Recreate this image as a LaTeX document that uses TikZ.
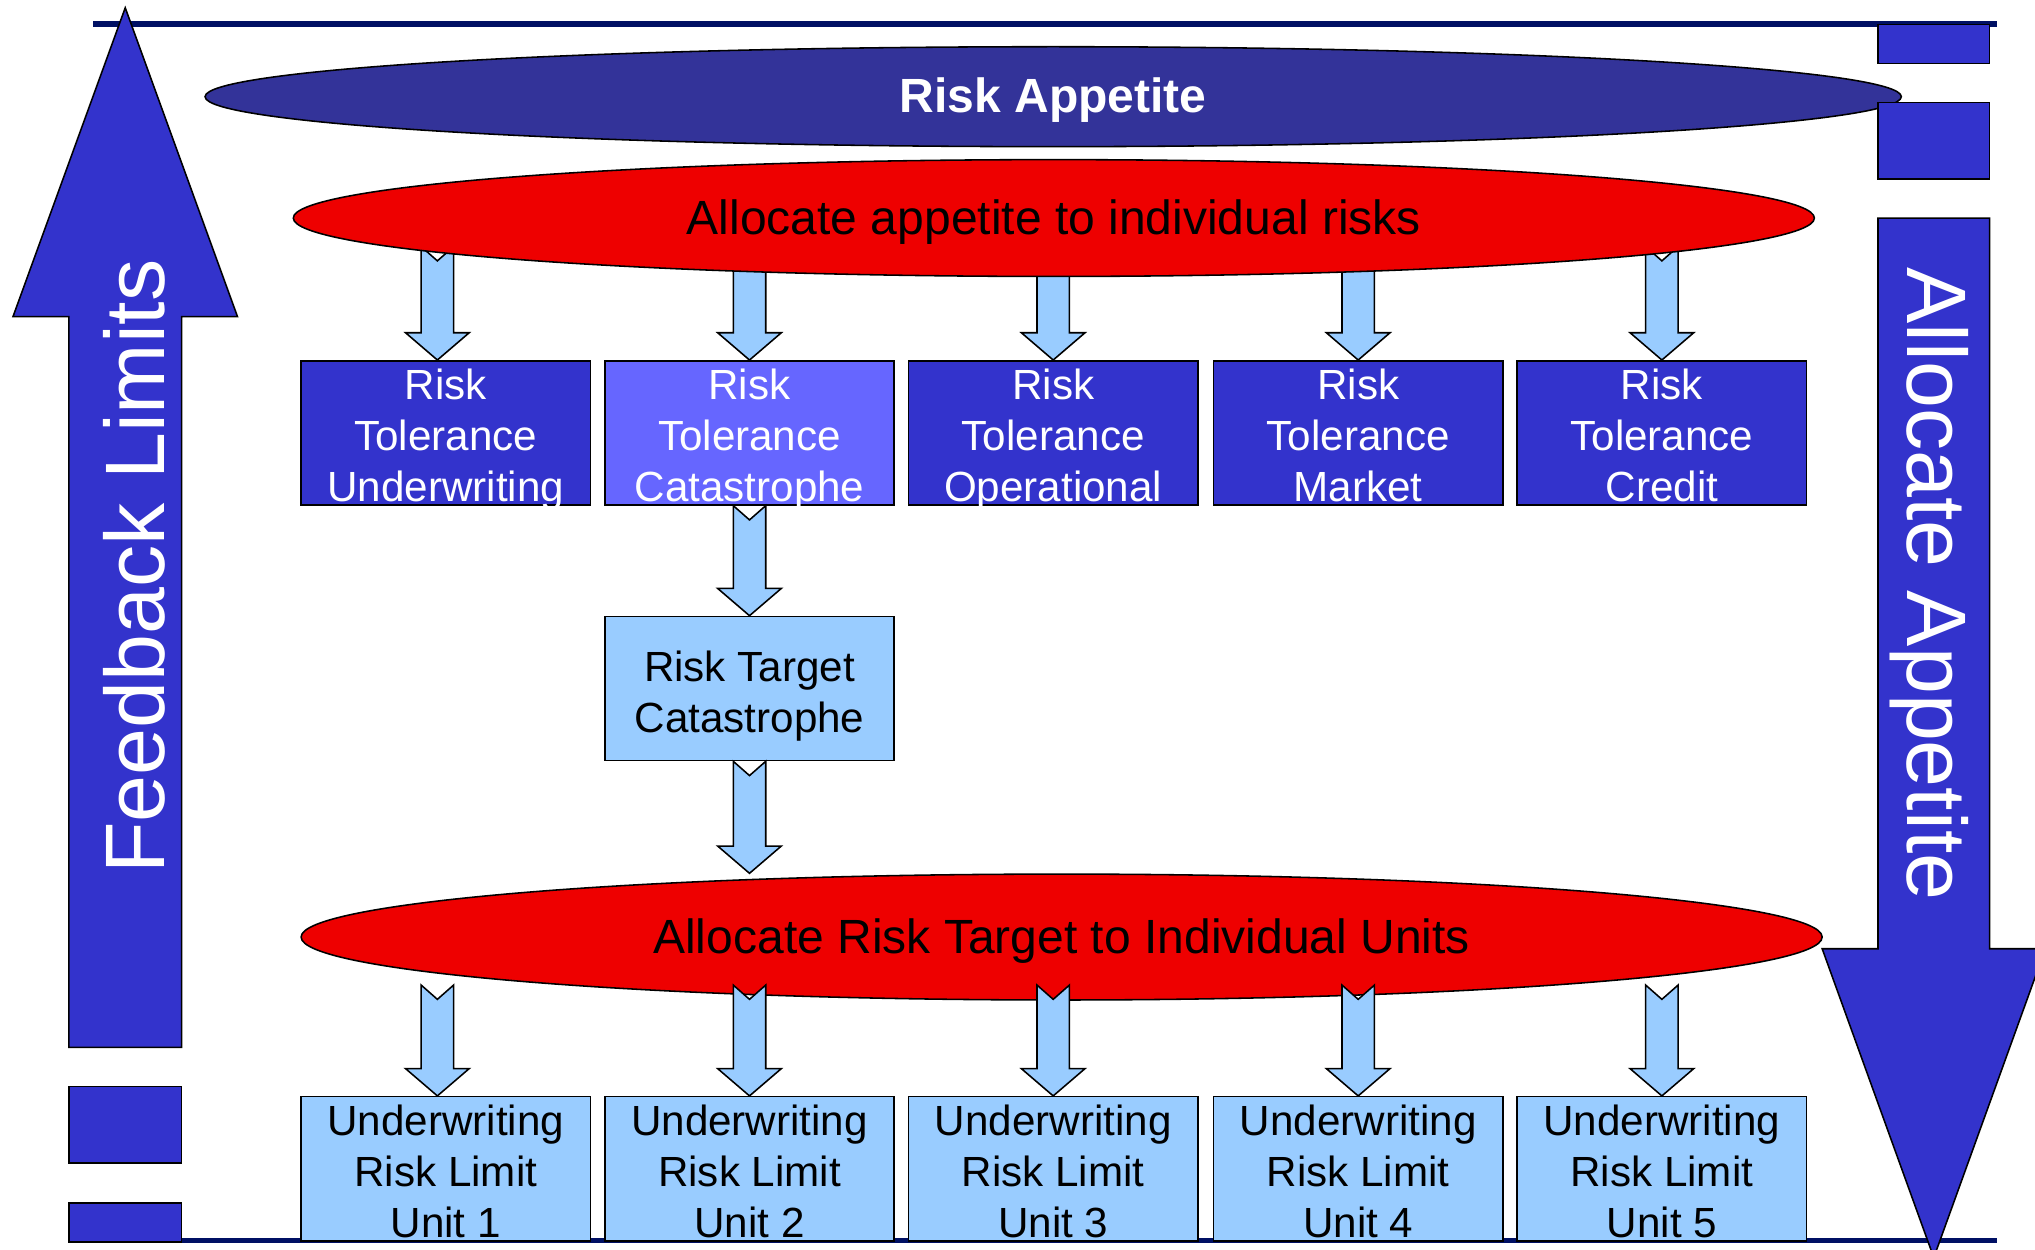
\documentclass[tikz,border=0pt]{standalone}
\usepackage{fontspec}
\setmainfont{Liberation Sans}
\usetikzlibrary{shapes.geometric,calc}

\definecolor{navy}{RGB}{0,16,100}
\definecolor{appetite}{HTML}{333399}
\definecolor{deepblue}{HTML}{3333CC}
\definecolor{catblue}{HTML}{6666FF}
\definecolor{paleblue}{HTML}{99CCFF}
\definecolor{allocred}{HTML}{EE0000}

\newcommand\boxfont{\fontsize{32.5}{39.5}\selectfont}
\newcommand\ellfont{\fontsize{37}{40}\selectfont}
\newcommand\sidefont{\fontsize{65}{70}\selectfont}

% notched block arrow from a tail point (#1, only its height is used) down to a tip (#2)
\newcommand\blockarrow[2]{%
  \draw[outline, fill=paleblue] let \p1=(#1), \p2=(#2) in
    (\x2,\y2) -- (\x2-24.5pt,\y2+21pt) -- (\x2-12.5pt,\y2+21pt)
    -- (\x2-12.5pt,\y1) -- (\x2,\y1-11pt) -- (\x2+12.5pt,\y1)
    -- (\x2+12.5pt,\y2+21pt) -- (\x2+24.5pt,\y2+21pt) -- cycle;}

\begin{document}
\begin{tikzpicture}[x=1pt,y=-1pt,
  outline/.style={draw=black,line width=1.2pt},
  tolbox/.style={outline,fill=deepblue,minimum width=223pt,minimum height=111pt,inner sep=0pt},
  limbox/.style={tolbox,fill=paleblue},
  boxtext/.style={anchor=north,inner sep=0pt,align=center,font=\boxfont},
  oval/.style={ellipse,outline,inner sep=0pt,font=\ellfont,text height=26pt,text depth=1pt},
  sidetext/.style={anchor=base,inner sep=0pt,text=white,font=\sidefont}]

\useasboundingbox (0,0) rectangle (1568,963);
\clip (0,0) rectangle (1568,963);
\fill[white] (0,0) rectangle (1568,963);

% frame lines
\draw[navy,line width=4pt] (72,18.5) -- (1539,18.5);
\draw[navy,line width=4pt] (72,956) -- (1539,956);

% feedback arrow on the left
\draw[outline,fill=deepblue] (96.5,6) -- (183,244) -- (140,244) -- (140,807)
  -- (53,807) -- (53,244) -- (10,244) -- cycle;
\draw[outline,fill=deepblue] (53,837) rectangle (140,896);
\draw[outline,fill=deepblue] (53,927) rectangle (140,957);
\node[sidetext,rotate=90] (feedback) at (127,436.5) {Feedback Limits};

% risk appetite
\node[oval,fill=appetite,text=white,font=\bfseries\ellfont,
  minimum width=1307pt,minimum height=77pt] (appetite) at (811.5,74.5) {Risk Appetite};

% allocation arrow on the right
\draw[outline,fill=deepblue] (1447,19) rectangle (1533,49);
\draw[outline,fill=deepblue] (1447,79) rectangle (1533,138);
\draw[outline,fill=deepblue] (1447,168) -- (1533,168) -- (1533,731) -- (1576,731)
  -- (1490,969) -- (1404,731) -- (1447,731) -- cycle;
\node[sidetext,rotate=-90] (allocate) at (1470,450) {Allocate Appetite};

% risk tolerance boxes
\node[tolbox] (tu) at (343.5,333.5) {};
\node[tolbox,fill=catblue] (tc) at (577.5,333.5) {};
\node[tolbox] (to) at (811.5,333.5) {};
\node[tolbox] (tm) at (1046.5,333.5) {};
\node[tolbox] (tr) at (1280.5,333.5) {};

% arrows from the first allocation down to the tolerances
\coordinate (s1) at (337,190);
\coordinate (s2) at (577.5,190);
\coordinate (s3) at (811.5,190);
\coordinate (s4) at (1046.5,190);
\coordinate (s5) at (1280.5,190);
\blockarrow{s1}{[xshift=-6.5pt]tu.north}
\blockarrow{s2}{tc.north}
\blockarrow{s3}{to.north}
\blockarrow{s4}{tm.north}
\blockarrow{s5}{tr.north}

\node[oval,fill=allocred,minimum width=1172pt,minimum height=90pt] (split)
  at (812,168) {Allocate appetite to individual risks};

\node[boxtext,text=white] (tut) at (343.5,284) {Risk\\Tolerance\\Underwriting};
\node[boxtext,text=white] (tct) at (577.5,284) {Risk\\Tolerance\\Catastrophe};
\node[boxtext,text=white] (tot) at (811.5,284) {Risk\\Tolerance\\Operational};
\node[boxtext,text=white] (tmt) at (1046.5,284) {Risk\\Tolerance\\Market};
\node[boxtext,text=white] (trt) at (1280.5,284) {Risk\\Tolerance\\Credit};

% catastrophe target
\node[limbox] (target) at (577.5,530.5) {};
\node[boxtext] (targett) at (577.5,501) {Risk Target\\Catastrophe};
\blockarrow{tc.south}{target.north}

\node[oval,fill=allocred,minimum width=1172pt,minimum height=97pt] (units)
  at (818,722) {Allocate Risk Target to Individual Units};
\coordinate (unitsin) at (target |- units.north);
\blockarrow{target.south}{unitsin}

% unit limits
\node[limbox] (u1) at (343.5,900.5) {};
\node[limbox] (u2) at (577.5,900.5) {};
\node[limbox] (u3) at (811.5,900.5) {};
\node[limbox] (u4) at (1046.5,900.5) {};
\node[limbox] (u5) at (1280.5,900.5) {};

\coordinate (r1) at (337,759);
\coordinate (r2) at (577.5,759);
\coordinate (r3) at (811.5,759);
\coordinate (r4) at (1046.5,759);
\coordinate (r5) at (1280.5,759);
\blockarrow{r1}{[xshift=-6.5pt]u1.north}
\blockarrow{r2}{u2.north}
\blockarrow{r3}{u3.north}
\blockarrow{r4}{u4.north}
\blockarrow{r5}{u5.north}

\node[boxtext] (u1t) at (343.5,851) {Underwriting\\Risk Limit\\Unit 1};
\node[boxtext] (u2t) at (577.5,851) {Underwriting\\Risk Limit\\Unit 2};
\node[boxtext] (u3t) at (811.5,851) {Underwriting\\Risk Limit\\Unit 3};
\node[boxtext] (u4t) at (1046.5,851) {Underwriting\\Risk Limit\\Unit 4};
\node[boxtext] (u5t) at (1280.5,851) {Underwriting\\Risk Limit\\Unit 5};
\end{tikzpicture}
\end{document}
